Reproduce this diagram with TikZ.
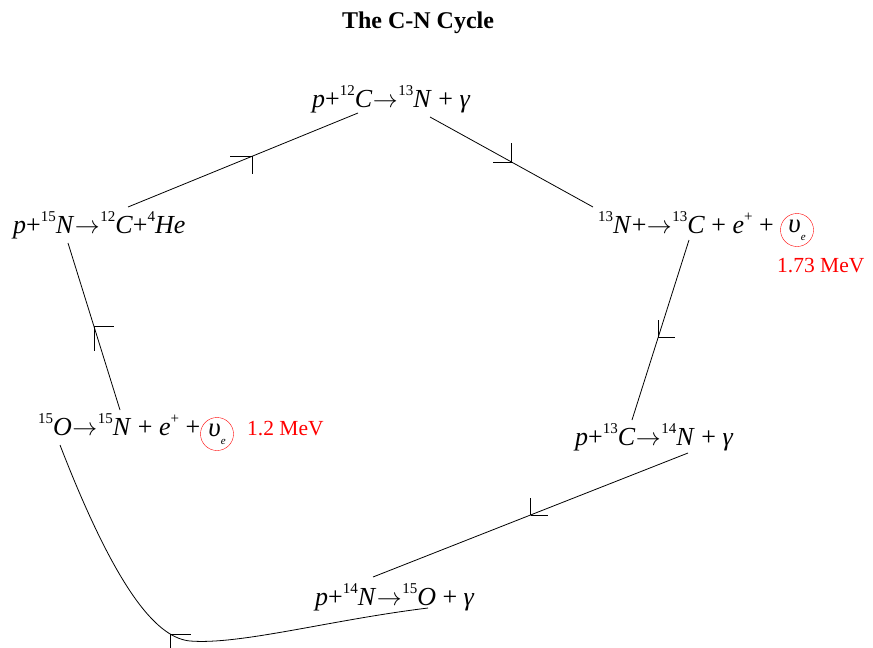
\documentclass[tikz,border=0pt]{standalone}
\usepackage{fontspec}
\setmainfont{Liberation Serif}
\newcommand\sps[1]{\raisebox{0.45em}{\fontsize{15}{15}\selectfont #1}}
\newcommand\iso[2]{\sps{#1}\textit{#2}}
\newcommand\arr{\kern0.5pt$\rightarrow$\kern0.5pt}
\newcommand\nue{\textit{υ}\raisebox{-0.3em}{\fontsize{11}{11}\selectfont\textit{e}}}
\tikzset{
  rx/.style={anchor=base west, inner sep=0pt, font=\fontsize{26}{26}\selectfont},
  nucirc/.style={circle, draw=red, minimum size=33pt, inner sep=0pt, font=\fontsize{27}{27}\selectfont},
  mev/.style={anchor=base west, inner sep=0pt, text=red, font=\fontsize{21.5}{21.5}\selectfont},
  cyc/.style={draw=black, line width=0.8pt},
  tick/.style={draw=black, line width=0.8pt}
}
\begin{document}
\begin{tikzpicture}[x=1pt,y=-1pt]
\useasboundingbox (0,0) rectangle (873,648);
\node[anchor=base, inner sep=0pt, font=\bfseries\fontsize{24}{24}\selectfont] (title) at (418,28) {The C-N Cycle};
% reactions
\node[rx] (top) at (312,107) {\textit{p}+\iso{12}{C}\arr\iso{13}{N} + \textit{γ}};
\node[rx] (left) at (13,233) {\textit{p}+\iso{15}{N}\arr\iso{12}{C}+\iso{4}{He}};
\node[rx] (right) at (598,233) {\iso{13}{N}+\arr\iso{13}{C} + \textit{e}\sps{+} +};
\node[nucirc] (rnu) at (797,230) {\nue};
\node[mev] (rmev) at (777,272) {1.73 MeV};
\node[rx] (rlow) at (575,445) {\textit{p}+\iso{13}{C}\arr\iso{14}{N} + \textit{γ}};
\node[rx] (llow) at (38,435) {\iso{15}{O}\arr\iso{15}{N} + \textit{e}\sps{+} +};
\node[nucirc] (lnu) at (217,434) {\nue};
\node[mev] (lmev) at (247,435) {1.2 MeV};
\node[rx] (bot) at (315,605) {\textit{p}+\iso{14}{N}\arr\iso{15}{O} + \textit{γ}};
% connector end points
\coordinate (a1) at (128,207); \coordinate (a2) at (358,113);
\coordinate (b1) at (430,117); \coordinate (b2) at (593,207);
\coordinate (c1) at (689,240); \coordinate (c2) at (632,420);
\coordinate (d1) at (688,453); \coordinate (d2) at (373,577);
\coordinate (e1) at (428,608); \coordinate (e2) at (190,641); \coordinate (e3) at (60,445);
\coordinate (f1) at (120,410); \coordinate (f2) at (68,243);
% connectors
\draw[cyc] (a1) -- coordinate[pos=0.54] (ma) (a2);
\draw[cyc] (b1) -- coordinate[pos=0.5] (mb) (b2);
\draw[cyc] (c1) -- coordinate[pos=0.54] (mc) (c2);
\draw[cyc] (d1) -- coordinate[pos=0.5] (md) (d2);
\draw[cyc] (e1) .. controls (330,620) and (240,645) .. (e2) .. controls (160,638) and (120,600) .. coordinate[pos=0.2] (me) (e3);
\draw[cyc] (f1) -- coordinate[pos=0.5] (mf) (f2);
% direction marks
\draw[tick] (ma) -- ++(-22,0) (ma) -- ++(0,18);
\draw[tick] (mb) -- ++(-19,0) (mb) -- ++(0,-19);
\draw[tick] (mc) -- ++(17,0) (mc) -- ++(0,-17);
\draw[tick] (md) -- ++(17,0) (md) -- ++(0,-17);
\draw[tick] (me) -- ++(20,0) (me) -- ++(0,19);
\draw[tick] (mf) -- ++(20,0) (mf) -- ++(0,24);
\end{tikzpicture}
\end{document}
